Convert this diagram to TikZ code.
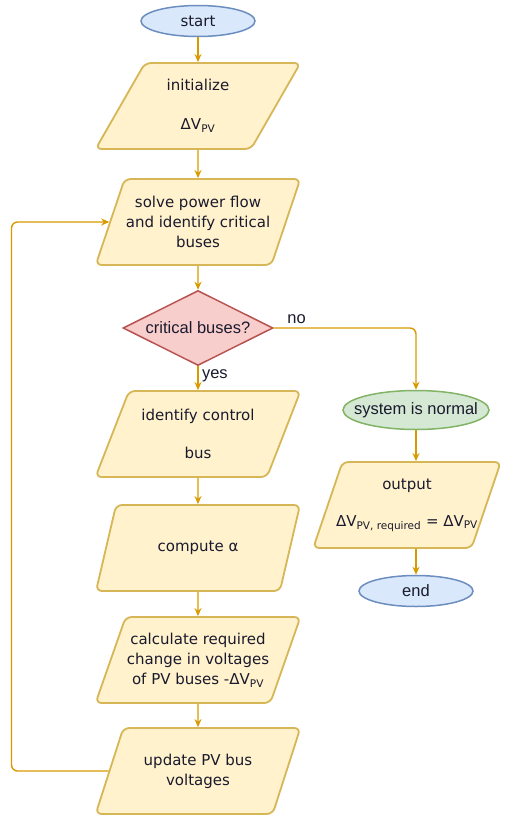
\documentclass[tikz,border=0pt]{standalone}
\usepackage{fontspec}
\setmainfont{Liberation Sans}
\newfontfamily\boxfont{DejaVu Sans}
\usetikzlibrary{shapes.geometric, arrows.meta}

\definecolor{ioFill}{HTML}{FFF2CC}
\definecolor{ioLine}{HTML}{D6B656}
\definecolor{termFill}{HTML}{DAE8FC}
\definecolor{termLine}{HTML}{6C8EBF}
\definecolor{okFill}{HTML}{D5E8D4}
\definecolor{okLine}{HTML}{82B366}
\definecolor{decFill}{HTML}{F8CECC}
\definecolor{decLine}{HTML}{B85450}
\definecolor{flowLine}{HTML}{D79B00}
\definecolor{txt}{HTML}{1A1A2E}

\tikzset{
    iobox/.style={draw=ioLine, fill=ioFill, line width=1.8pt, trapezium,
        trapezium left angle=64, trapezium right angle=116,
        trapezium stretches=true, minimum width=205pt, minimum height=86pt,
        rounded corners=6pt, align=center, text=txt, inner xsep=0pt,
        font=\boxfont\fontsize{15}{20}\selectfont},
    termbox/.style={draw=termLine, fill=termFill, line width=1.5pt, ellipse,
        minimum width=114pt, minimum height=31pt, inner sep=0pt, text=txt,
        font=\fontsize{16.5}{18}\selectfont},
    okbox/.style={draw=okLine, fill=okFill, line width=1.5pt, ellipse,
        minimum width=146pt, minimum height=39pt, inner xsep=-14pt,
        inner ysep=0pt, text=txt, font=\fontsize{16.5}{18}\selectfont},
    decision/.style={draw=decLine, fill=decFill, line width=1.5pt, diamond,
        aspect=2, minimum width=150pt, minimum height=75pt, inner sep=0pt,
        text=txt, font=\fontsize{16.5}{18}\selectfont},
    flow/.style={->, >={Stealth[length=8pt, width=7pt]}, draw=flowLine,
        line width=1.4pt},
    lbl/.style={text=txt, font=\fontsize{16.5}{18}\selectfont}
}

\begin{document}
\begin{tikzpicture}[x=1pt, y=-1pt]
    \useasboundingbox (0, 0) rectangle (515, 816);

    \node[termbox, font=\boxfont\fontsize{15}{18}\selectfont] (start) at
        (198, 21) {start};
    \node[iobox] (init) at (198, 106) {initialize\\[19pt]%
        ΔV\textsubscript{PV}};
    \node[iobox] (solve) at (198, 222) {solve power flow\\and identify
        critical\\buses};
    \node[decision] (crit) at (198, 328) {critical buses?};
    \node[iobox] (control) at (198, 434) {identify control\\[18pt]bus};
    \node[iobox] (alpha) at (198, 548) {compute α};
    \node[iobox] (calc) at (198, 660) {calculate required\\change in
        voltages\\of PV buses -ΔV\textsubscript{PV}};
    \node[iobox] (update) at (198, 771) {update PV bus\\voltages};

    \node[okbox] (normal) at (416, 410) {system is normal};
    \node[iobox, minimum width=188pt, inner xsep=-7pt] (output) at
        (407, 505) {output\\[17pt]%
        ΔV\textsubscript{PV, required} = ΔV\textsubscript{PV}};
    \node[termbox] (end) at (416, 591) {end};

    \draw[flow] (start) -- (init);
    \draw[flow] (init) -- (solve);
    \draw[flow] (solve) -- (crit);
    \draw[flow] (crit) -- node[lbl, right, pos=0.4] {yes} (control);
    \draw[flow] (control) -- (alpha);
    \draw[flow] (alpha) -- (calc);
    \draw[flow] (calc) -- (update);
    \draw[flow, rounded corners=6pt] (update.west) -- ++(-97, 0)
        |- (solve.west);
    \draw[flow, rounded corners=6pt] (crit.east) -| node[lbl, above,
        pos=0.08] {no} (normal.north);
    \draw[flow] (normal) -- (normal |- output.north);
    \draw[flow] (output.south -| end.north) -- (end);
\end{tikzpicture}
\end{document}
